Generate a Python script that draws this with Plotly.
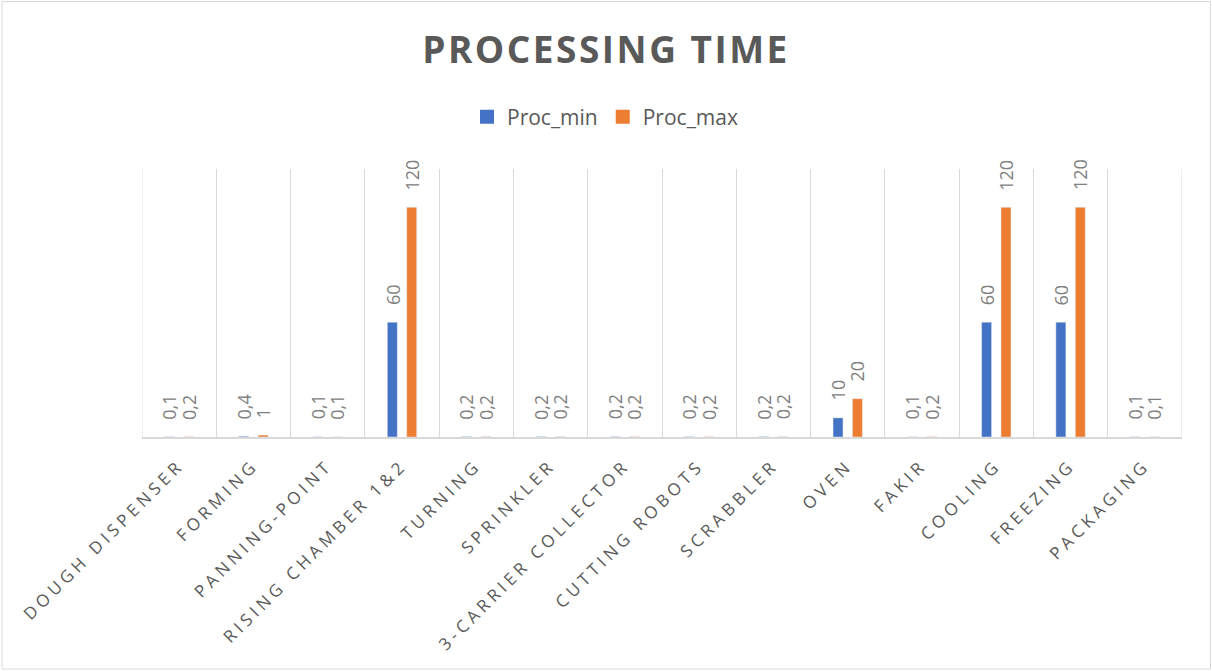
import plotly.graph_objects as go

# Processing steps on the line
categories = [
    "DOUGH DISPENSER", "FORMING", "PANNING-POINT", "RISING CHAMBER 1&2",
    "TURNING", "SPRINKLER", "3-CARRIER COLLECTOR", "CUTTING ROBOTS",
    "SCRABBLER", "OVEN", "FAKIR", "COOLING", "FREEZING", "PACKAGING",
]
# Minimum and maximum processing time per step
proc_min = [0.1, 0.4, 0.1, 60, 0.2, 0.2, 0.2, 0.2, 0.2, 10, 0.1, 60, 60, 0.1]
proc_max = [0.2, 1, 0.1, 120, 0.2, 0.2, 0.2, 0.2, 0.2, 20, 0.2, 120, 120, 0.1]
series_names = ["Proc_min", "Proc_max"]

BLUE = "#4472C4"
ORANGE = "#ED7D31"
TEXT = "#595959"
LABEL = "#808080"
GRID = "#D9D9D9"

W, H = 1212, 671
L, R, T, B = 142, 30, 169, 234
BARGAP = 0.478
BARGROUPGAP = 0.485

fig = go.Figure()
for name, values, color in zip(series_names, (proc_min, proc_max), (BLUE, ORANGE)):
    fig.add_trace(go.Bar(x=categories, y=values, name=name, marker_color=color,
                         showlegend=False))
    # legend entry with a larger square swatch
    fig.add_trace(go.Scatter(x=[None], y=[None], name=name, mode="markers",
                             marker=dict(symbol="square", size=14, color=color)))


def fmt(v):
    return f"{v:g}".replace(".", ",")


# Value labels above each bar, rotated
slot = (1 - BARGAP) / 2
annotations = []
for series, shift in ((proc_min, -slot / 2), (proc_max, slot / 2)):
    for i, v in enumerate(series):
        annotations.append(dict(
            x=i + shift, y=v, xref="x", yref="y",
            text=fmt(v), textangle=-90, showarrow=False,
            xanchor="center", yanchor="bottom", yshift=15,
            font=dict(family="Open Sans", size=18, color=LABEL),
        ))

pw = W - L - R
ph = H - T - B
shapes = [
    # light frame around the whole chart area
    dict(type="rect", xref="paper", yref="paper",
         x0=(2 - L) / pw, x1=(W - 1.5 - L) / pw,
         y0=-(H - 2 - T - ph) / ph, y1=(ph + T - 1.5) / ph,
         line=dict(color=GRID, width=1), fillcolor="rgba(0,0,0,0)", layer="below"),
]
# outer category boundaries
for xb in (-0.5, len(categories) - 0.5):
    shapes.append(dict(type="line", xref="x", yref="paper", x0=xb, x1=xb, y0=0, y1=1,
                       line=dict(color=GRID, width=1), layer="below"))

fig.update_layout(
    width=W, height=H,
    margin=dict(l=L, r=R, t=T, b=B),
    paper_bgcolor="white", plot_bgcolor="white",
    barmode="group", bargap=BARGAP, bargroupgap=BARGROUPGAP,
    title=dict(
        text="<b>PROCESSING TIME</b>", x=0.5, xref="container",
        y=(H - 50) / H, yanchor="middle", yref="container",
        font=dict(family="Open Sans", size=37, color=TEXT),
    ),
    legend=dict(
        orientation="h", x=(605 - L) / pw, xanchor="center",
        y=(H - B - 117) / ph, yanchor="middle",
        font=dict(family="Open Sans", size=21, color=TEXT),
        itemwidth=30,
    ),
    xaxis=dict(
        type="category", tickson="boundaries", showgrid=True, gridcolor=GRID,
        gridwidth=1, showline=True, linecolor=GRID, linewidth=1.5, ticks="",
        tickangle=-45, tickfont=dict(family="Open Sans", size=17, color=TEXT),
        ticklabelstandoff=10,
        range=[-0.5, len(categories) - 0.5],
    ),
    yaxis=dict(
        range=[0, 140], showgrid=False, zeroline=False, showticklabels=False,
        showline=False, ticks="",
    ),
    annotations=annotations,
    shapes=shapes,
)

spacing_css = (
    "var s=document.createElement('style');"
    "s.textContent='.xtick text{letter-spacing:4.2px}.gtitle{letter-spacing:2.5px}';"
    "document.head.appendChild(s);"
)
fig.write_html("out.html", post_script=spacing_css)
